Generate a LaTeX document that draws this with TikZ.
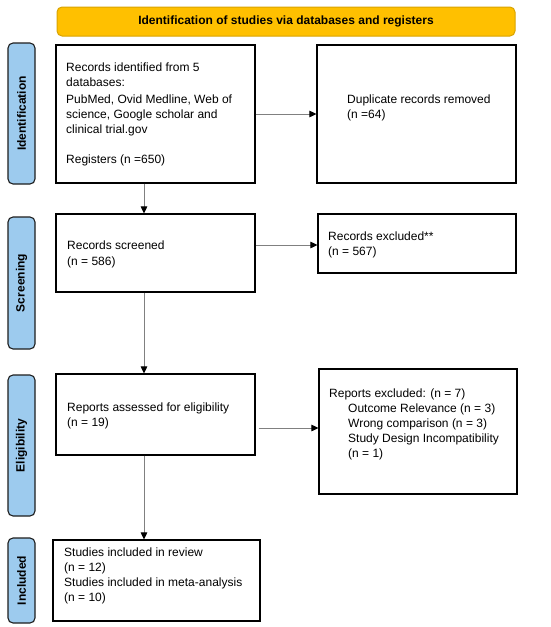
\documentclass[tikz,border=0pt]{standalone}
\usepackage{fontspec}
\setmainfont{Liberation Sans}
\usetikzlibrary{arrows.meta}
\definecolor{hdrfill}{HTML}{FFC000}
\definecolor{hdrdraw}{HTML}{D9A300}
\definecolor{sidefill}{HTML}{9DCBEE}
\definecolor{sidedraw}{HTML}{1E1E1E}
\definecolor{conncol}{HTML}{808080}
\begin{document}
\begin{tikzpicture}[x=1pt,y=1pt,
  box/.style={draw=black, line width=1.1pt, fill=white, inner sep=0pt},
  txt/.style={inner sep=0pt, align=left, anchor=west, font=\fontsize{12}{15}\selectfont},
  side/.style={draw=sidedraw, line width=1.1pt, fill=sidefill, rounded corners=5pt, inner sep=0pt,
    minimum width=27pt},
  sidetxt/.style={inner sep=0pt, rotate=90, font=\fontsize{12}{15}\selectfont\bfseries},
  hdr/.style={draw=hdrdraw, line width=1pt, fill=hdrfill, rounded corners=5pt, inner sep=0pt,
    font=\fontsize{12}{15}\selectfont\bfseries},
  conn/.style={draw=conncol, line width=0.9pt, -{Triangle[length=7pt,width=6.5pt,color=black]}}
]
\useasboundingbox[fill=white] (0,0) rectangle (550,-627);

% header
\node[hdr, minimum width=458pt, minimum height=29pt] (hdr) at (286,-21.5) {Identification of studies via databases and registers};

% side labels
\node[side, minimum height=141pt] (sid) at (21.5,-113.5) {};
\node[sidetxt] (sidt) at (sid.center) {Identification};
\node[side, minimum height=132pt] (sscr) at (21.5,-283) {};
\node[sidetxt] (sscrt) at (sscr.center) {Screening};
\node[side, minimum height=141pt] (selg) at (21.5,-445.5) {};
\node[sidetxt] (selgt) at (selg.center) {Eligibility};
\node[side, minimum height=85pt] (sinc) at (21.5,-580.5) {};
\node[sidetxt] (sinct) at (sinc.center) {Included};

% boxes
\node[box, minimum width=199pt, minimum height=138pt] (b1) at (155.5,-114) {};
\node[box, minimum width=199pt, minimum height=138pt] (dup) at (416.5,-114) {};
\node[box, minimum width=199pt, minimum height=78pt] (scr) at (155.5,-253) {};
\node[box, minimum width=198pt, minimum height=59pt] (exc) at (417,-243.5) {};
\node[box, minimum width=199pt, minimum height=81pt] (rep) at (155.5,-414.5) {};
\node[box, minimum width=198pt, minimum height=125pt] (repx) at (418,-431.5) {};
\node[box, minimum width=207pt, minimum height=81pt] (inc) at (156.5,-580.5) {};

% texts
\node[txt] (t1) at (66,-114.5) {Records identified from 5\\[-0.5pt]
databases:\\[2.5pt]
PubMed, Ovid Medline, Web of\\
science, Google scholar and\\
clinical trial.gov\\[15pt]
Registers (n =650)};
\node[txt] (tdup) at (347,-108) {Duplicate records removed\\(n =64)};
\node[txt] (tscr) at (67,-254) {Records screened\\[1pt](n = 586)};
\node[txt] (texc) at (328,-244.5) {Records excluded**\\(n = 567)};
\node[txt] (trep) at (67,-415.5) {Reports assessed for eligibility\\(n = 19)};
\node[txt] (trepx) at (329,-424.5) {Reports excluded: (n = 7)\\
\hspace*{19pt}Outcome Relevance (n = 3)\\
\hspace*{19pt}Wrong comparison (n = 3)\\
\hspace*{19pt}Study Design Incompatibility\\
\hspace*{19pt}(n = 1)};
\node[txt] (tinc) at (64,-575.5) {Studies included in review\\(n = 12)\\Studies included in meta-analysis\\(n = 10)};

% connectors
\draw[conn] (b1.east) -- (dup.west);
\draw[conn] ([yshift=-1.5pt]exc.west -| scr.east) -- ([yshift=-1.5pt]exc.west);
\draw[conn] ([xshift=3pt,yshift=3.5pt]repx.west -| rep.east) -- ([yshift=3.5pt]repx.west);
\draw[conn] ([xshift=-11.5pt]b1.south) -- ([xshift=-11.5pt]scr.north);
\draw[conn] ([xshift=-11.5pt]scr.south) -- ([xshift=-11.5pt]rep.north);
\draw[conn] ([xshift=-11.5pt]rep.south) -- ([xshift=-12.5pt]inc.north);
\end{tikzpicture}
\end{document}
